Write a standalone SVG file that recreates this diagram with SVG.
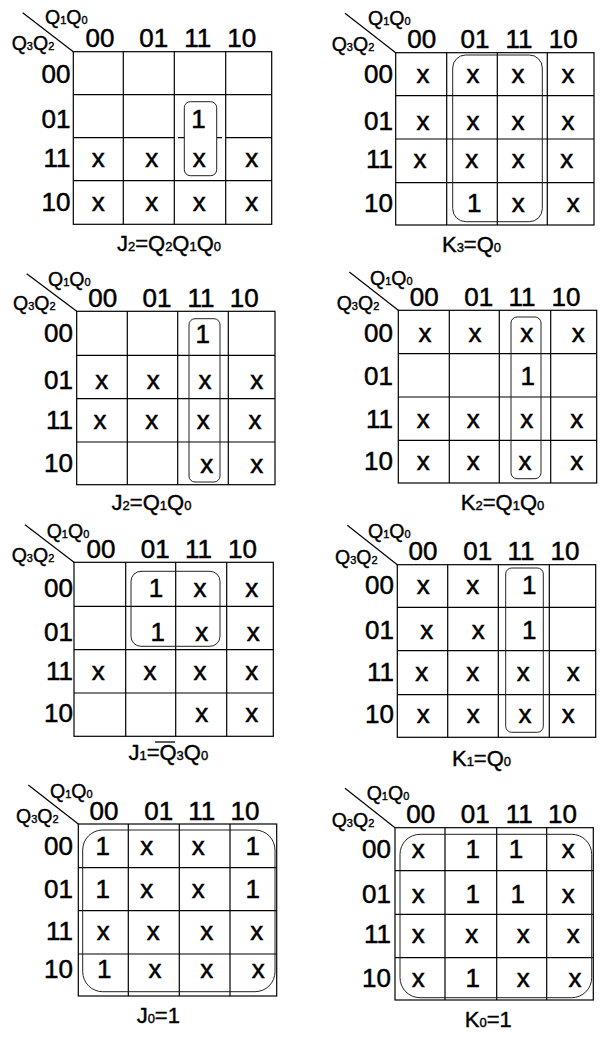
<svg xmlns="http://www.w3.org/2000/svg" width="602" height="1039" viewBox="0 0 602 1039">
<style>
text{font-family:"Liberation Sans",Arial,sans-serif;fill:#000;stroke:#000;stroke-width:0.5}
.g{fill:none;stroke:#000;stroke-width:1.2}
.d{stroke:#000;stroke-width:1.2}
.lp{fill:none;stroke:#222;stroke-width:1}
.q{font-size:19.5px;stroke-width:0.4}
.s{font-size:11px}
.h{font-size:26px;text-anchor:middle}
.r{font-size:26px;text-anchor:end}
.c{font-size:26px;text-anchor:middle}
.f{font-size:22px;text-anchor:middle;stroke-width:0.4}
.fs{font-size:13px}
</style>
<rect width="602" height="1039" fill="#fff"/>

<g id="map-J2a">
<rect class="g" x="73.3" y="51.7" width="198.4" height="172.6"/>
<path class="g" d="M123.3 51.7V224.3M174.3 51.7V224.3M225.7 51.7V224.3M73.3 94.7H271.7M73.3 180.7H271.7M73.3 137.7H174.3M178 137.7H184.3M216.7 137.7H222M225.7 137.7H271.7"/>
<line class="d" x1="22.7" y1="12.7" x2="73.3" y2="51.7"/>
<text class="q" x="45" y="24">Q<tspan class="s">1</tspan>Q<tspan class="s">0</tspan></text>
<text class="q" x="11.7" y="49.5">Q<tspan class="s">3</tspan>Q<tspan class="s">2</tspan></text>
<text class="h" x="100" y="46.5">00</text><text class="h" x="153.7" y="46.5">01</text><text class="h" x="197.7" y="46.5">11</text><text class="h" x="241.7" y="46.5">10</text>
<text class="r" x="70.5" y="83">00</text><text class="r" x="70.5" y="128">01</text><text class="r" x="70.5" y="166.7">11</text><text class="r" x="70.5" y="210.5">10</text>
<text class="c" x="198.5" y="128">1</text>
<text class="c" x="98.3" y="166.7">x</text><text class="c" x="151.7" y="166.7">x</text><text class="c" x="199.3" y="166.7">x</text><text class="c" x="251.7" y="166.7">x</text>
<text class="c" x="98.3" y="210.7">x</text><text class="c" x="151.7" y="210.7">x</text><text class="c" x="199.3" y="210.7">x</text><text class="c" x="251.7" y="210.7">x</text>
<rect class="lp" x="184.3" y="101.7" width="32.4" height="74" rx="6"/>
<text class="f" x="169" y="251">J<tspan class="fs">2</tspan>=Q<tspan class="fs">2</tspan>Q<tspan class="fs">1</tspan>Q<tspan class="fs">0</tspan></text>
</g>

<g id="map-K3">
<rect class="g" x="395.7" y="52.7" width="198.3" height="172.3"/>
<path class="g" d="M446.7 52.7V225M497.3 52.7V225M547.3 52.7V225M395.7 95.7H594M395.7 139H594M395.7 182.7H594"/>
<line class="d" x1="345" y1="13.3" x2="395.7" y2="52.7"/>
<text class="q" x="368" y="25">Q<tspan class="s">1</tspan>Q<tspan class="s">0</tspan></text>
<text class="q" x="331.7" y="50.5">Q<tspan class="s">3</tspan>Q<tspan class="s">2</tspan></text>
<text class="h" x="421.7" y="47.5">00</text><text class="h" x="475" y="47.5">01</text><text class="h" x="519" y="47.5">11</text><text class="h" x="563.2" y="47.5">10</text>
<text class="r" x="393" y="83.3">00</text><text class="r" x="393" y="130">01</text><text class="r" x="393" y="168">11</text><text class="r" x="393" y="212">10</text>
<text class="c" x="423" y="83.3">x</text><text class="c" x="473" y="83.3">x</text><text class="c" x="518" y="83.3">x</text><text class="c" x="568" y="83.3">x</text>
<text class="c" x="423" y="130">x</text><text class="c" x="473" y="130">x</text><text class="c" x="518" y="130">x</text><text class="c" x="568" y="130">x</text>
<text class="c" x="420" y="168">x</text><text class="c" x="471.7" y="168">x</text><text class="c" x="518.3" y="168">x</text><text class="c" x="566.7" y="168">x</text>
<text class="c" x="474.3" y="212">1</text><text class="c" x="518.3" y="212">x</text><text class="c" x="573.3" y="212">x</text>
<rect class="lp" x="452.7" y="55" width="89.6" height="166.7" rx="13"/>
<text class="f" x="471.5" y="251.7">K<tspan class="fs">3</tspan>=Q<tspan class="fs">0</tspan></text>
</g>

<g id="map-J2b">
<rect class="g" x="76.7" y="311.3" width="198.3" height="173.4"/>
<path class="g" d="M127.3 311.3V484.7M177.7 311.3V484.7M228.3 311.3V484.7M76.7 355.3H275M76.7 398.7H275M76.7 442H275"/>
<line class="d" x1="26.7" y1="273.7" x2="76.7" y2="311.3"/>
<text class="q" x="48" y="286">Q<tspan class="s">1</tspan>Q<tspan class="s">0</tspan></text>
<text class="q" x="13" y="310">Q<tspan class="s">3</tspan>Q<tspan class="s">2</tspan></text>
<text class="h" x="102.7" y="307">00</text><text class="h" x="157" y="307">01</text><text class="h" x="201" y="307">11</text><text class="h" x="244.2" y="307">10</text>
<text class="r" x="73" y="342">00</text><text class="r" x="73" y="388.7">01</text><text class="r" x="73" y="428.7">11</text><text class="r" x="73" y="472">10</text>
<text class="c" x="202.7" y="342.7">1</text>
<text class="c" x="101.7" y="388.7">x</text><text class="c" x="153.3" y="388.7">x</text><text class="c" x="205" y="388.7">x</text><text class="c" x="256.7" y="388.7">x</text>
<text class="c" x="100" y="428.7">x</text><text class="c" x="151.7" y="428.7">x</text><text class="c" x="203.3" y="428.7">x</text><text class="c" x="255" y="428.7">x</text>
<text class="c" x="206.7" y="472.7">x</text><text class="c" x="256.7" y="472.7">x</text>
<rect class="lp" x="189" y="318.7" width="31" height="163.3" rx="6"/>
<text class="f" x="151.5" y="510">J<tspan class="fs">2</tspan>=Q<tspan class="fs">1</tspan>Q<tspan class="fs">0</tspan></text>
</g>

<g id="map-K2">
<rect class="g" x="398.3" y="310.3" width="198.4" height="172.7"/>
<path class="g" d="M449.3 310.3V483M499.3 310.3V483M550.7 310.3V483M398.3 353.7H596.7M398.3 397H596.7M398.3 440.3H596.7"/>
<line class="d" x1="349.3" y1="272" x2="398.3" y2="310.3"/>
<text class="q" x="370" y="284.7">Q<tspan class="s">1</tspan>Q<tspan class="s">0</tspan></text>
<text class="q" x="336.7" y="309.5">Q<tspan class="s">3</tspan>Q<tspan class="s">2</tspan></text>
<text class="h" x="424.3" y="306.3">00</text><text class="h" x="478.7" y="306.3">01</text><text class="h" x="522" y="306.3">11</text><text class="h" x="565.9" y="306.3">10</text>
<text class="r" x="393" y="342">00</text><text class="r" x="393" y="384.7">01</text><text class="r" x="393" y="427.7">11</text><text class="r" x="393" y="470.3">10</text>
<text class="c" x="425" y="342">x</text><text class="c" x="475" y="342">x</text><text class="c" x="526.7" y="342">x</text><text class="c" x="578.3" y="342">x</text>
<text class="c" x="527.7" y="384.7">1</text>
<text class="c" x="423.3" y="427.7">x</text><text class="c" x="473.3" y="427.7">x</text><text class="c" x="526.7" y="427.7">x</text><text class="c" x="576.7" y="427.7">x</text>
<text class="c" x="423.3" y="470.3">x</text><text class="c" x="473.3" y="470.3">x</text><text class="c" x="525" y="470.3">x</text><text class="c" x="576.7" y="470.3">x</text>
<rect class="lp" x="511" y="317" width="30" height="161.7" rx="6"/>
<text class="f" x="502.5" y="510">K<tspan class="fs">2</tspan>=Q<tspan class="fs">1</tspan>Q<tspan class="fs">0</tspan></text>
</g>

<g id="map-J1">
<rect class="g" x="74" y="562.3" width="199.3" height="174"/>
<path class="g" d="M125.7 562.3V736.3M175.7 562.3V736.3M226.7 562.3V736.3M74 606.3H273.3M74 649.7H273.3M74 693H273.3"/>
<line class="d" x1="25" y1="524.7" x2="74" y2="562.3"/>
<text class="q" x="46.7" y="538">Q<tspan class="s">1</tspan>Q<tspan class="s">0</tspan></text>
<text class="q" x="11.7" y="561.5">Q<tspan class="s">3</tspan>Q<tspan class="s">2</tspan></text>
<text class="h" x="101" y="558">00</text><text class="h" x="155.3" y="558">01</text><text class="h" x="198.5" y="558">11</text><text class="h" x="242.5" y="558">10</text>
<text class="r" x="73" y="597.3">00</text><text class="r" x="73" y="640.7">01</text><text class="r" x="73" y="679.7">11</text><text class="r" x="73" y="722">10</text>
<text class="c" x="156" y="597.3">1</text><text class="c" x="200" y="597.3">x</text><text class="c" x="251.7" y="597.3">x</text>
<text class="c" x="157.7" y="640.7">1</text><text class="c" x="201.7" y="640.7">x</text><text class="c" x="253.3" y="640.7">x</text>
<text class="c" x="98.3" y="679.7">x</text><text class="c" x="150" y="679.7">x</text><text class="c" x="200" y="679.7">x</text><text class="c" x="251.7" y="679.7">x</text>
<text class="c" x="201.7" y="722">x</text><text class="c" x="251.7" y="722">x</text>
<rect class="lp" x="131" y="571.3" width="89" height="75" rx="10"/>
<text class="f" x="168.3" y="759.7">J<tspan class="fs">1</tspan>=Q<tspan class="fs">3</tspan>Q<tspan class="fs">0</tspan></text>
<line x1="155" y1="742" x2="175" y2="742" stroke="#000" stroke-width="1.3"/>
</g>

<g id="map-K1">
<rect class="g" x="397.3" y="564.7" width="198.4" height="172.6"/>
<path class="g" d="M447.7 564.7V737.3M498.3 564.7V737.3M549.3 564.7V737.3M397.3 607.3H595.7M397.3 650.7H595.7M397.3 694.7H595.7"/>
<line class="d" x1="347.3" y1="525.3" x2="397.3" y2="564.7"/>
<text class="q" x="368" y="538">Q<tspan class="s">1</tspan>Q<tspan class="s">0</tspan></text>
<text class="q" x="335" y="564">Q<tspan class="s">3</tspan>Q<tspan class="s">2</tspan></text>
<text class="h" x="423" y="559.7">00</text><text class="h" x="477.8" y="559.7">01</text><text class="h" x="521" y="559.7">11</text><text class="h" x="565" y="559.7">10</text>
<text class="r" x="394" y="594">00</text><text class="r" x="394" y="638.7">01</text><text class="r" x="394" y="681.3">11</text><text class="r" x="394" y="723">10</text>
<text class="c" x="423.3" y="594">x</text><text class="c" x="472.7" y="594">x</text><text class="c" x="529.3" y="594">1</text>
<text class="c" x="426.7" y="638.7">x</text><text class="c" x="478.3" y="638.7">x</text><text class="c" x="529.3" y="638.7">1</text>
<text class="c" x="421.7" y="681.3">x</text><text class="c" x="472.7" y="681.3">x</text><text class="c" x="523.3" y="681.3">x</text><text class="c" x="573.3" y="681.3">x</text>
<text class="c" x="423.3" y="723">x</text><text class="c" x="473.3" y="723">x</text><text class="c" x="525" y="723">x</text><text class="c" x="568.3" y="723">x</text>
<rect class="lp" x="505.7" y="568" width="37.6" height="164.3" rx="6"/>
<text class="f" x="481.5" y="766.3">K<tspan class="fs">1</tspan>=Q<tspan class="fs">0</tspan></text>
</g>

<g id="map-J0">
<rect class="g" x="78.3" y="824" width="198.4" height="172"/>
<path class="g" d="M128.3 824V996M179.3 824V996M230 824V996M78.3 867.7H276.7M78.3 910.7H276.7M78.3 954H276.7"/>
<line class="d" x1="28.3" y1="785" x2="78.3" y2="824"/>
<text class="q" x="50" y="798.3">Q<tspan class="s">1</tspan>Q<tspan class="s">0</tspan></text>
<text class="q" x="16" y="823">Q<tspan class="s">3</tspan>Q<tspan class="s">2</tspan></text>
<text class="h" x="104" y="820">00</text><text class="h" x="158.7" y="820">01</text><text class="h" x="201.8" y="820">11</text><text class="h" x="245" y="820">10</text>
<text class="r" x="73" y="855">00</text><text class="r" x="73" y="898.3">01</text><text class="r" x="73" y="940">11</text><text class="r" x="73" y="978.3">10</text>
<text class="c" x="102.7" y="855">1</text><text class="c" x="146.7" y="855">x</text><text class="c" x="198.3" y="855">x</text><text class="c" x="252.7" y="855">1</text>
<text class="c" x="102.7" y="898.3">1</text><text class="c" x="146.7" y="898.3">x</text><text class="c" x="198.3" y="898.3">x</text><text class="c" x="252.7" y="898.3">1</text>
<text class="c" x="103.3" y="940">x</text><text class="c" x="153.3" y="940">x</text><text class="c" x="206.7" y="940">x</text><text class="c" x="256.7" y="940">x</text>
<text class="c" x="104.3" y="978.3">1</text><text class="c" x="155" y="978.3">x</text><text class="c" x="206.7" y="978.3">x</text><text class="c" x="258.3" y="978.3">x</text>
<rect class="lp" x="82.7" y="830" width="192.3" height="161.7" rx="20"/>
<text class="f" x="158.3" y="1023.3">J<tspan class="fs">0</tspan>=1</text>
</g>

<g id="map-K0">
<rect class="g" x="395" y="827.7" width="198.3" height="172.3"/>
<path class="g" d="M445 827.7V1000M496.7 827.7V1000M546.7 827.7V1000M395 870.7H593.3M395 914.3H593.3M395 957.7H593.3"/>
<line class="d" x1="345" y1="788.3" x2="395" y2="827.7"/>
<text class="q" x="366.7" y="800">Q<tspan class="s">1</tspan>Q<tspan class="s">0</tspan></text>
<text class="q" x="331.7" y="827">Q<tspan class="s">3</tspan>Q<tspan class="s">2</tspan></text>
<text class="h" x="420.8" y="823.3">00</text><text class="h" x="475.3" y="823.3">01</text><text class="h" x="519.3" y="823.3">11</text><text class="h" x="562.5" y="823.3">10</text>
<text class="r" x="391" y="858.3">00</text><text class="r" x="391" y="902.7">01</text><text class="r" x="391" y="943.3">11</text><text class="r" x="391" y="987.3">10</text>
<text class="c" x="418.3" y="858.3">x</text><text class="c" x="472.7" y="858.3">1</text><text class="c" x="516" y="858.3">1</text><text class="c" x="568.3" y="858.3">x</text>
<text class="c" x="418.3" y="902.7">x</text><text class="c" x="472.7" y="902.7">1</text><text class="c" x="517.7" y="902.7">1</text><text class="c" x="568.3" y="902.7">x</text>
<text class="c" x="418.3" y="943.3">x</text><text class="c" x="471.7" y="943.3">x</text><text class="c" x="523.3" y="943.3">x</text><text class="c" x="573.3" y="943.3">x</text>
<text class="c" x="418.3" y="987.3">x</text><text class="c" x="472.7" y="987.3">1</text><text class="c" x="523.3" y="987.3">x</text><text class="c" x="575" y="987.3">x</text>
<rect class="lp" x="400" y="834.3" width="191.7" height="163.4" rx="20"/>
<text class="f" x="488.3" y="1026.7">K<tspan class="fs">0</tspan>=1</text>
</g>
</svg>
